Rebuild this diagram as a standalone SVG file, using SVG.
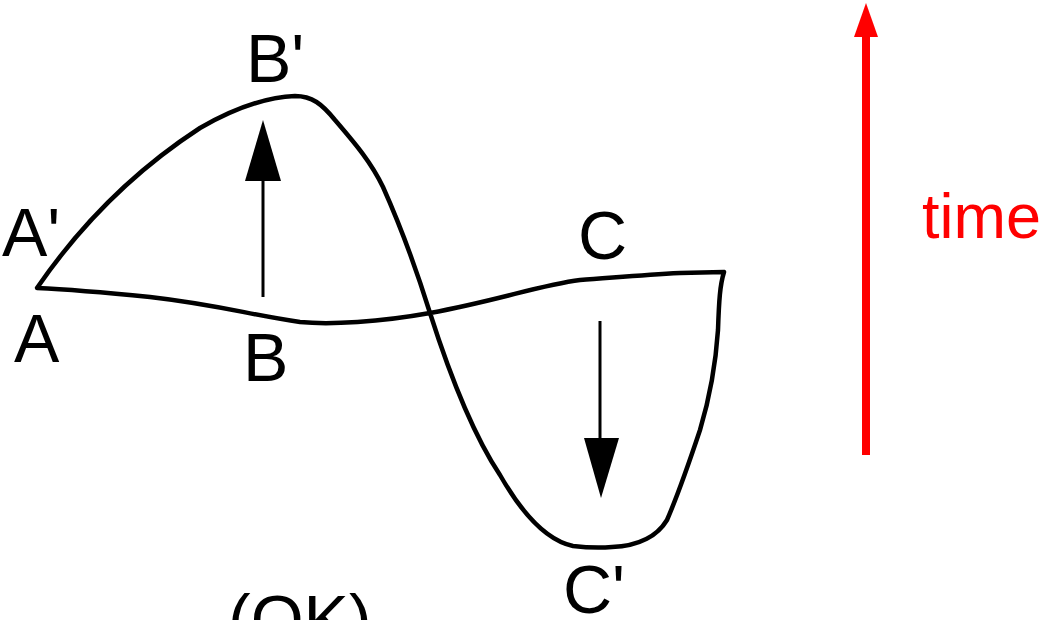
<svg xmlns="http://www.w3.org/2000/svg" width="1050" height="620" viewBox="0 0 1050 620">
<style>
.lbl{font-family:"Liberation Sans",Arial,sans-serif;font-size:68px;fill:#000}
.curve{fill:none;stroke:#000;stroke-width:4.5;stroke-linejoin:round;stroke-linecap:round}
.arr{stroke:#000;stroke-width:3}
</style>
<rect width="1050" height="620" fill="#fff"/>
<g id="curve">
<path class="curve" d="M37,288 C70,240 120,180 200,128 C240,105 270,97 295,96 C312,96 322,104 335,120 C352,140 370,160 383,187 C400,225 415,265 430,313 C445,360 470,430 500,475 C520,510 545,540 573,546 C590,548 600,548 612,547 C640,546 658,535 667,520 C680,490 690,460 700,430 C712,390 716,360 718,330 C719,300 720,285 724,272 L680,273 C640,275 610,278 580,280 C540,285 500,300 430,313 C380,322 330,325 300,322 C250,315 220,305 150,297 C100,292 60,289 37,288 Z"/>
</g>
<g id="connectors">
<line class="arr" x1="263" y1="297" x2="263" y2="178"/>
<polygon points="263,120 245,181 281,181" fill="#000"/>
<line class="arr" x1="600" y1="321" x2="600" y2="440"/>
<polygon points="601,498 584,438 619,438" fill="#000"/>
<line x1="866" y1="455" x2="866" y2="34" stroke="#f00" stroke-width="8"/>
<polygon points="866,3 854,37 878,37" fill="#f00"/>
</g>
<g id="labels">
<text class="lbl" x="246" y="82">B'</text>
<text class="lbl" x="2" y="256">A'</text>
<text class="lbl" x="14" y="362">A</text>
<text class="lbl" x="243" y="381">B</text>
<text class="lbl" x="578" y="259">C</text>
<text class="lbl" x="563" y="613">C'</text>
<text class="lbl" x="228" y="643">(OK)</text>
<text x="922" y="238" font-family="Liberation Sans,Arial,sans-serif" font-size="63" fill="#f00">time</text>
</g>
</svg>
